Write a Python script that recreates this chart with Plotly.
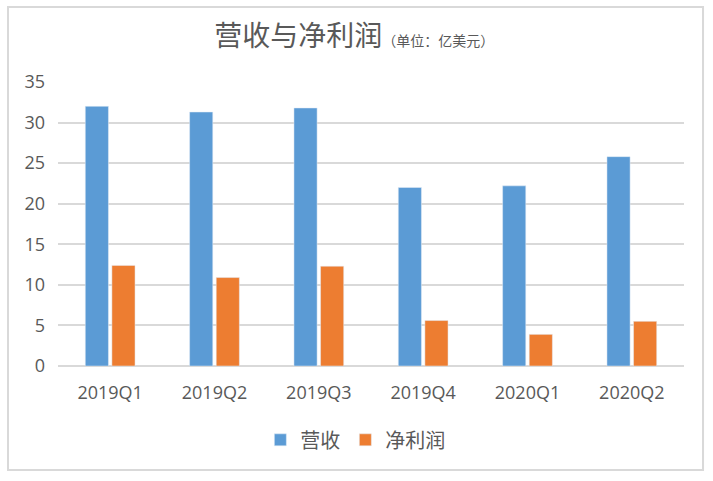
import plotly.graph_objects as go

# quarterly figures, in 亿美元
quarters = ['2019Q1', '2019Q2', '2019Q3', '2019Q4', '2020Q1', '2020Q2']
revenue = [32.0, 31.3, 31.8, 22.0, 22.2, 25.8]
net_profit = [12.4, 10.9, 12.3, 5.6, 3.9, 5.5]

blue = '#5B9BD5'
orange = '#ED7D31'
grid = '#D9D9D9'
text_color = '#595959'
font_family = 'Open Sans, Noto Sans CJK SC, sans-serif'

fig = go.Figure()
fig.add_trace(go.Bar(x=quarters, y=revenue, name='营收', marker_color=blue))
fig.add_trace(go.Bar(x=quarters, y=net_profit, name='净利润', marker_color=orange))

fig.update_layout(
    width=713, height=481,
    margin=dict(l=58, r=29, t=82, b=115),
    paper_bgcolor='white',
    plot_bgcolor='white',
    barmode='group',
    bargap=0.49,
    bargroupgap=0.13,
    font=dict(family=font_family, color=text_color, size=18),
    title=dict(
        text="营收与净利润<span style='font-size:14px'>（单位：亿美元）</span>",
        x=0.497, xanchor='center',
        y=0.925, yanchor='middle',
        font=dict(size=28, color=text_color, family='Noto Sans CJK SC'),
    ),
    legend=dict(
        orientation='h',
        x=0.475, xanchor='center',
        y=-0.26, yanchor='middle',
        font=dict(size=20, family='Noto Sans CJK SC'),
        itemwidth=30,
    ),
    showlegend=True,
)

fig.update_yaxes(
    range=[0, 35], dtick=5,
    showgrid=True, gridcolor=grid, gridwidth=1.5,
    zeroline=True, zerolinecolor=grid, zerolinewidth=1.5,
    showline=False,
    ticklabelstandoff=12,
    tickfont=dict(size=18),
    fixedrange=True,
)
fig.update_xaxes(
    showline=False, showgrid=False,
    ticklabelstandoff=14,
    tickfont=dict(size=18),
)

# outer chart border
fig.add_shape(
    type='rect', xref='paper', yref='paper',
    x0=-0.0799, x1=1.0304, y0=-0.366, y1=1.264,
    line=dict(color=grid, width=2),
    fillcolor='rgba(0,0,0,0)',
    layer='below',
)

# drop the default page margin so the figure sits at the window corner
fig.write_html('out.html',
               config={'displayModeBar': False},
               post_script="document.body.style.margin='0';")
